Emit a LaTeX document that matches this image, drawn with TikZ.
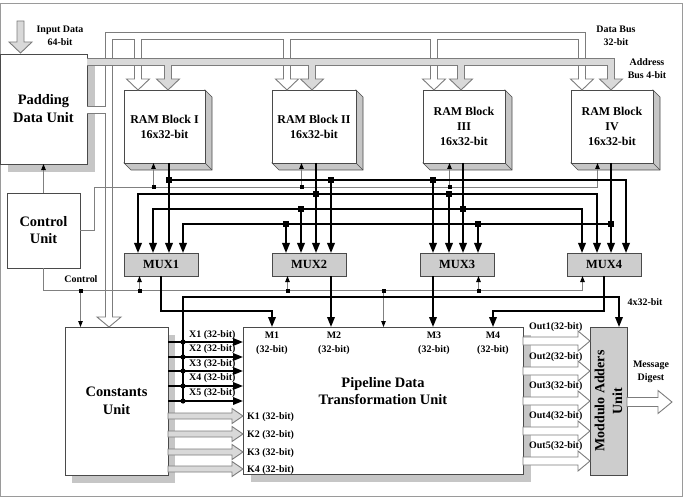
\documentclass[tikz,border=0pt]{standalone}
\usepackage{fontspec}
\setmainfont{Liberation Serif}
\usetikzlibrary{arrows.meta,calc,backgrounds}

\definecolor{edgec}{HTML}{4A4A4A}
\definecolor{wirec}{HTML}{808080}
\definecolor{shadec}{HTML}{C6C6C6}
\definecolor{muxc}{HTML}{CDCDCD}
\definecolor{busf}{HTML}{D9D9D9}
\definecolor{buse}{HTML}{7C7C7C}
\definecolor{framec}{HTML}{9A9A9A}

\newcommand{\fbig}{\fontsize{14.5}{18}\selectfont\bfseries}
\newcommand{\fram}{\fontsize{12}{15}\selectfont\bfseries}
\newcommand{\fsmall}{\fontsize{10}{13}\selectfont\bfseries}

% junction marks
\newcommand{\sqdot}[1]{\fill[black] #1 ++(-2.8,-2.8) rectangle ++(5.6,5.6);}
\newcommand{\smdot}[1]{\fill[black] #1 ++(-2,-2) rectangle ++(4,4);}
\newcommand{\rdot}[1]{\fill[black] #1 circle[radius=2.6];}
% rightward block arrow: style, x start, x tip, y centre, shaft half, head half, head length
\newcommand{\rarrow}[7]{\filldraw[#1] (#2,#4-#5) -- (#3-#7,#4-#5) -- (#3-#7,#4-#6) -- (#3,#4) -- (#3-#7,#4+#6) -- (#3-#7,#4+#5) -- (#2,#4+#5) -- cycle;}
% downward block arrow, open at the top: style, x centre, y start, y tip, shaft half, head half, head length
\newcommand{\darrow}[7]{\filldraw[#1] (#2-#5,#3) -- (#2-#5,#4-#7) -- (#2-#6,#4-#7) -- (#2,#4) -- (#2+#6,#4-#7) -- (#2+#5,#4-#7) -- (#2+#5,#3);}

\begin{document}
\begin{tikzpicture}[x=1bp,y=-1bp,
  unit/.style={draw=edgec, line width=0.8bp, fill=white, align=center, inner sep=0pt, outer sep=0pt, anchor=north west, font=\fbig},
  ramb/.style={unit, font=\fram, minimum height=73bp},
  muxb/.style={draw=edgec, line width=0.8bp, fill=muxc, inner sep=0pt, outer sep=0pt, anchor=north west, minimum width=74bp, minimum height=23bp, font=\fontsize{12.5}{15}\selectfont\bfseries},
  lbl/.style={align=center, inner sep=0pt, font=\fsmall},
  thk/.style={black, line width=1.8bp},
  thka/.style={thk, -{Triangle[length=10bp,width=7.5bp]}},
  wire/.style={draw=wirec, line width=0.9bp},
  wirea/.style={wire, -{Triangle[length=6bp,width=4.5bp,color=black]}},
  busline/.style={draw=buse, line width=0.9bp},
]
\useasboundingbox (0,0) rectangle (685,497);
\draw[framec, line width=0.8bp] (0.5,3.5) rectangle (682.5,496.5);

% ---------- blocks ----------
\node[unit, minimum width=87bp, minimum height=110bp] (pad) at (0,54) {Padding\\Data Unit};
\node[unit, minimum width=73bp, minimum height=75bp, font=\fontsize{14.5}{17}\selectfont\bfseries] (ctrl) at (7,193) {Control\\Unit};
\node[ramb, minimum width=81bp] (ram1) at (124,90) {RAM Block I\\16x32-bit};
\node[ramb, minimum width=84bp] (ram2) at (272,90) {RAM Block II\\16x32-bit};
\node[ramb, minimum width=82bp] (ram3) at (423,90) {RAM Block\\III\\16x32-bit};
\node[ramb, minimum width=82bp] (ram4) at (571,90) {RAM Block\\IV\\16x32-bit};
\node[muxb] (mux1) at (124,253) {MUX1};
\node[muxb] (mux2) at (272,253) {MUX2};
\node[muxb] (mux3) at (420,253) {MUX3};
\node[muxb] (mux4) at (567,253) {MUX4};
\node[unit, minimum width=103bp, minimum height=148bp] (const) at (65,327) {Constants\\Unit};
\node[unit, minimum width=280bp, minimum height=147bp] (pipe) at (243,327) {};
\node[align=center, inner sep=0pt, font=\fontsize{14.5}{17}\selectfont\bfseries] (pipetxt) at (383,391.5) {Pipeline Data\\Transformation Unit};
\node[unit, fill=muxc, minimum width=37bp, minimum height=148bp] (mod) at (590,327) {};
\node[rotate=90, align=center, inner sep=0pt, font=\fontsize{14}{18}\selectfont\bfseries] (modtxt) at (mod.center) {Moddulo Adders\\Unit};

% ---------- shadows and RAM extrusions ----------
\begin{scope}[on background layer]
  \fill[shadec] ($(pad.north west)+(8,8)$) rectangle ($(pad.south east)+(8,8)$);
  \fill[shadec] ($(const.north west)+(7,8)$) rectangle ($(const.south east)+(7,8)$);
  \fill[shadec] ($(pipe.north west)+(8,8)$) rectangle ($(pipe.south east)+(8,8)$);
  \foreach \r in {ram1,ram2,ram3,ram4}{
    \filldraw[fill=shadec, draw=edgec, line width=0.6bp] (\r.north east) -- ++(7,7) -- ($(\r.south east)+(7,7)$) -- ($(\r.south west)+(7,7)$) -- (\r.south west) -- (\r.south east) -- cycle;
    \draw[edgec, line width=0.6bp] (\r.south east) -- ++(7,7);
  }
\end{scope}

% ---------- input arrow ----------
\filldraw[fill=busf, busline] (17,21) -- (17,42) -- (9,42) -- (20.5,53) -- (32,42) -- (24,42) -- (24,21) -- cycle;

% ---------- data bus (hollow) ----------
\draw[buse, line width=8bp] (109,317) -- (109,36) -- (582,36) -- (582,79) (87,110) -- (109,110);
\darrow{fill=white, busline}{109}{314}{327}{3.5}{12}{10}
\darrow{fill=white, busline}{138}{36}{90}{3.5}{11.5}{11}
\darrow{fill=white, busline}{287}{36}{90}{3.5}{11.5}{11}
\darrow{fill=white, busline}{434}{36}{90}{3.5}{11.5}{11}
\darrow{fill=white, busline}{582}{76}{90}{3.5}{11.5}{11}
\draw[white, line width=6bp] (109,317) -- (109,36) -- (582,36) -- (582,79) (87,110) -- (109,110);

% ---------- address bus (grey) ----------
\draw[buse, line width=8bp] (87,62) -- (611,62) -- (611,79);
\darrow{fill=busf, busline}{168}{62}{90}{3.5}{11.5}{11}
\darrow{fill=busf, busline}{312}{62}{90}{3.5}{11.5}{11}
\darrow{fill=busf, busline}{461}{62}{90}{3.5}{11.5}{11}
\darrow{fill=busf, busline}{611}{76}{90}{3.5}{11.5}{11}
\draw[busf, line width=6bp] (87,62) -- (611,62) -- (611,79);

% ---------- control wires ----------
\draw[wirea] (ctrl.north) -- (ctrl.north |- pad.south);
\draw[wirea] (ctrl.east) -- (94.5,0 |- ctrl.east) |- (597.5,187.5) -- (597.5,0 |- ram4.south);
\draw[wirea] (153.5,187.5) -- (153.5,0 |- ram1.south);
\draw[wirea] (301.5,187.5) -- (301.5,0 |- ram2.south);
\draw[wirea] (449.5,187.5) -- (449.5,0 |- ram3.south);
\smdot{(153.5,187.5)} \smdot{(301.5,187.5)} \smdot{(449.5,187.5)}
\draw[wirea] (ctrl.south) |- (582.5,290.5) -- (582.5,0 |- mux4.south);
\draw[wirea] (80.5,290.5) -- (80.5,0 |- const.north);
\draw[wirea] (139.5,290.5) -- (139.5,0 |- mux1.south);
\draw[wirea] (287.5,290.5) -- (287.5,0 |- mux2.south);
\draw[wirea] (383.5,290.5) -- (383.5,0 |- pipe.north);
\draw[wirea] (478.5,290.5) -- (478.5,0 |- mux3.south);
\smdot{(80.5,290.5)} \smdot{(139.5,290.5)} \smdot{(287.5,290.5)} \smdot{(383.5,290.5)} \smdot{(478.5,290.5)}

% ---------- RAM outputs to multiplexers ----------
\draw[thka] (169,0 |- ram1.south) -- (169,0 |- mux1.north);
\draw[thka] (316,0 |- ram2.south) -- (316,0 |- mux2.north);
\draw[thka] (463,0 |- ram3.south) -- (463,0 |- mux3.north);
\draw[thka] (611,0 |- ram4.south) -- (611,0 |- mux4.north);
\draw[thka] (169,180) -| (626,0 |- mux4.north);
\draw[thka] (331,180) -- (331,0 |- mux2.north);
\draw[thka] (433,180) -- (433,0 |- mux3.north);
\draw[thka] (316,194) -| (138,0 |- mux1.north);
\draw[thka] (316,194) -| (597,0 |- mux4.north);
\draw[thka] (449,194) -- (449,0 |- mux3.north);
\draw[thka] (463,209) -| (153,0 |- mux1.north);
\draw[thka] (463,209) -| (582,0 |- mux4.north);
\draw[thka] (301,209) -- (301,0 |- mux2.north);
\draw[thka] (611,224) -| (183,0 |- mux1.north);
\draw[thka] (286,224) -- (286,0 |- mux2.north);
\draw[thka] (478,224) -- (478,0 |- mux3.north);
\sqdot{(169,180)} \sqdot{(331,180)} \sqdot{(433,180)}
\sqdot{(316,194)} \sqdot{(449,194)}
\sqdot{(463,209)} \sqdot{(301,209)}
\sqdot{(611,224)} \sqdot{(286,224)} \sqdot{(478,224)}

% ---------- multiplexer outputs ----------
\draw[thka] (mux1.south) -- (161,311) -| (272,0 |- pipe.north);
\draw[thka] (331,0 |- mux2.south) -- (331,0 |- pipe.north);
\draw[thka] (433,0 |- mux3.south) -- (433,0 |- pipe.north);
\draw[thka] (mux4.south) -- (604,311) -| (493,0 |- pipe.north);

% ---------- initial values X1..X5 and 4x32-bit feed ----------
\draw[thka] (183,401) |- (619,297) -- (619,0 |- mod.north);
\foreach \yy in {342,357,371,386,401}{
  \draw[thka] (const.east |- 0,\yy) -- (pipe.west |- 0,\yy);
  \rdot{(183,\yy)}
}

% ---------- constants K1..K4 ----------
\foreach \yy in {416,434,452,469}{
  \rarrow{fill=busf, busline}{168}{243}{\yy}{3}{7.5}{11}
}

% ---------- outputs to the modulo adders ----------
\foreach \yy in {341,371,401,431,461}{
  \rarrow{fill=white, busline}{523}{590}{\yy}{4}{10}{12}
}
\rarrow{fill=white, busline}{627}{672}{402}{4.5}{11.5}{14}

% ---------- labels ----------
\node[lbl] (inlbl) at (60,35.5) {Input Data\\64-bit};
\node[lbl] (dblbl) at (616,35.5) {Data Bus\\32-bit};
\node[lbl] (ablbl) at (647,68.5) {Address\\Bus 4-bit};
\node[lbl] (ctllbl) at (81,279) {Control};
\node[lbl] (fxlbl) at (645,302) {4x32-bit};
\node[lbl] (mdlbl) at (651,371.5) {Message\\Digest};
\node[lbl, font=\fontsize{10}{14}\selectfont\bfseries] (m1) at (272,343) {M1\\(32-bit)};
\node[lbl, font=\fontsize{10}{14}\selectfont\bfseries] (m2) at (334,343) {M2\\(32-bit)};
\node[lbl, font=\fontsize{10}{14}\selectfont\bfseries] (m3) at (434,343) {M3\\(32-bit)};
\node[lbl, font=\fontsize{10}{14}\selectfont\bfseries] (m4) at (493,343) {M4\\(32-bit)};
\node[lbl, anchor=west] (x1) at (189,335) {X1 (32-bit)};
\node[lbl, anchor=west] (x2) at (189,349.5) {X2 (32-bit)};
\node[lbl, anchor=west] (x3) at (189,364) {X3 (32-bit)};
\node[lbl, anchor=west] (x4) at (189,378.5) {X4 (32-bit)};
\node[lbl, anchor=west] (x5) at (189,393) {X5 (32-bit)};
\node[lbl, anchor=west] (k1) at (247,417) {K1 (32-bit)};
\node[lbl, anchor=west] (k2) at (247,435) {K2 (32-bit)};
\node[lbl, anchor=west] (k3) at (247,453) {K3 (32-bit)};
\node[lbl, anchor=west] (k4) at (247,470) {K4 (32-bit)};
\node[lbl, anchor=west] (o1) at (529,327) {Out1(32-bit)};
\node[lbl, anchor=west] (o2) at (529,357) {Out2(32-bit)};
\node[lbl, anchor=west] (o3) at (529,386) {Out3(32-bit)};
\node[lbl, anchor=west] (o4) at (529,416) {Out4(32-bit)};
\node[lbl, anchor=west] (o5) at (529,446) {Out5(32-bit)};
\end{tikzpicture}
\end{document}
